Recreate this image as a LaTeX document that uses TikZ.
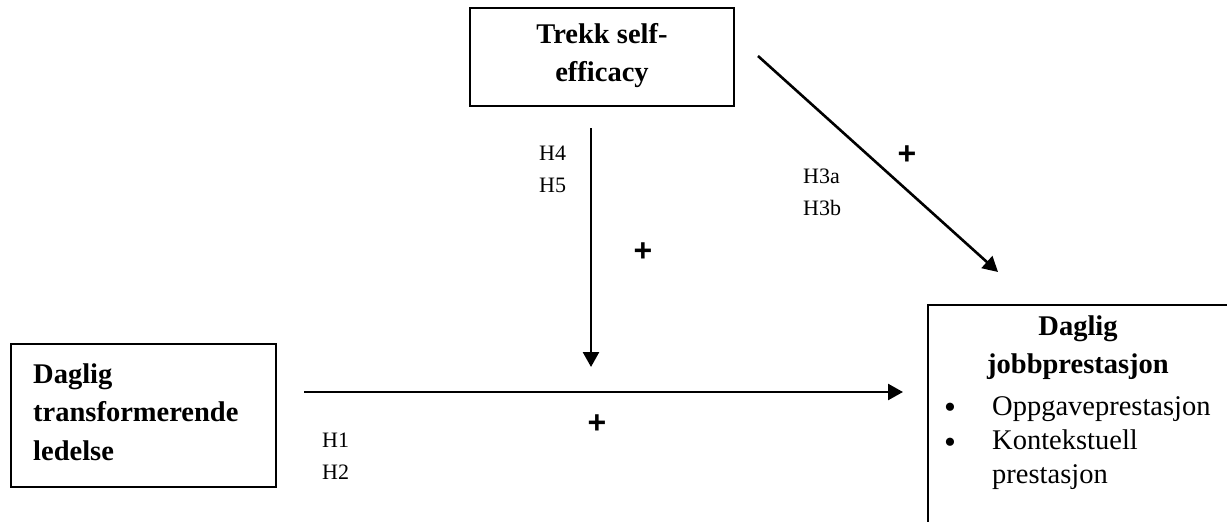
\documentclass[tikz,border=0pt]{standalone}
\usepackage{fontspec}
\setmainfont{Liberation Serif}
\newfontfamily\plusfont{Liberation Sans}
\usetikzlibrary{arrows.meta}
\begin{document}
\begin{tikzpicture}[x=1pt,y=-1pt,
  box/.style={draw, line width=2pt, inner sep=0pt},
  conn/.style={line width=2.6pt, -{Triangle[length=15pt,width=16pt]}},
  title/.style={font=\fontsize{28.5}{38.5}\selectfont\bfseries, inner sep=0pt},
  body/.style={font=\fontsize{28.5}{34}\selectfont, inner sep=0pt},
  bul/.style={font=\fontsize{34}{34}\selectfont, inner sep=0pt, anchor=base},
  hyp/.style={font=\fontsize{22}{32}\selectfont, inner sep=0pt, anchor=base west},
  plus/.style={font=\plusfont\bfseries\fontsize{32}{32}\selectfont, inner sep=0pt}]
\useasboundingbox (0,0) rectangle (1227,522);
\clip (0,0) rectangle (1227,522);
% boxes
\node[box, minimum width=265pt, minimum height=143pt] (lead) at (143.5,415.5) {};
\node[box, minimum width=264pt, minimum height=98pt] (trait) at (602,57) {};
\node[box, minimum width=330pt, minimum height=250pt, anchor=north west] (perf) at (927,304) {};
% box texts
\node[title, anchor=base west] (leadtxt) at (33,383) {\begin{tabular}[t]{@{}l@{}}Daglig\\transformerende\\ledelse\end{tabular}};
\node[title, anchor=base] (traittxt) at (602,43) {\begin{tabular}[t]{@{}c@{}}Trekk self-\\efficacy\end{tabular}};
\node[title, anchor=base] (perftxt) at (1078,335) {\begin{tabular}[t]{@{}c@{}}Daglig\\jobbprestasjon\end{tabular}};
\node[bul] (b1) at (950,418) {\textbullet};
\node[bul] (b2) at (950,453) {\textbullet};
\node[body, anchor=base west] (o1) at (992,415) {Oppgaveprestasjon};
\node[body, anchor=base west] (o2) at (992,449) {\begin{tabular}[t]{@{}l@{}}Kontekstuell\\prestasjon\end{tabular}};
% hypothesis labels
\node[hyp] (h45) at (539,160) {\begin{tabular}[t]{@{}l@{}}H4\\H5\end{tabular}};
\node[hyp] (h3) at (803,183) {\begin{tabular}[t]{@{}l@{}}H3a\\H3b\end{tabular}};
\node[hyp] (h12) at (322,447) {\begin{tabular}[t]{@{}l@{}}H1\\H2\end{tabular}};
% plus signs
\node[plus] (p3) at (907,155) {+};
\node[plus] (p45) at (643,252) {+};
\node[plus] (p12) at (597,424) {+};
% connectors
\coordinate (vs) at (591,128);
\coordinate (ve) at (591,367);
\coordinate (ds) at (758,56);
\coordinate (de) at (998,272);
\draw[conn, shorten <=27pt, shorten >=24pt] ([yshift=23.5pt]lead.east) -- ([yshift=23.5pt]lead.east -| perf.west);
\draw[conn] (vs) -- (ve);
\draw[conn] (ds) -- (de);
\end{tikzpicture}
\end{document}
